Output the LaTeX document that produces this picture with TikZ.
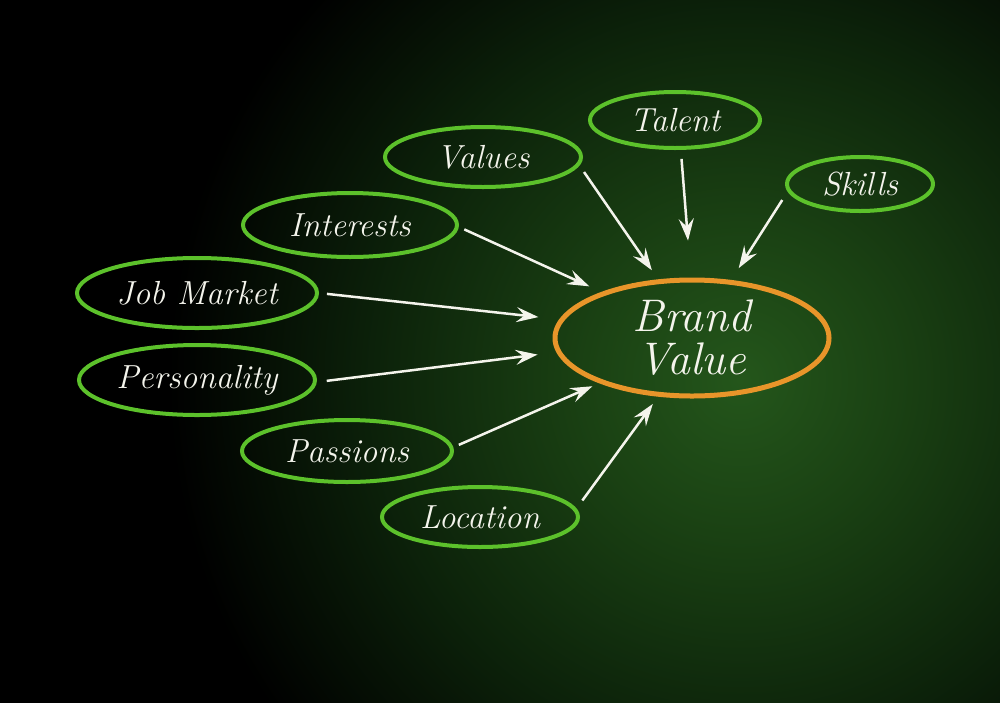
\documentclass[tikz,border=0pt]{standalone}
\usepackage{tikz}
\usetikzlibrary{
  arrows.meta,
  shapes.geometric
}
\definecolor{bvGreen}{HTML}{5CC12B}
\definecolor{bvOrange}{HTML}{E8952A}
\definecolor{bvChalk}{HTML}{F4F4EC}
\definecolor{bvBgA}{HTML}{24561B}
\definecolor{bvBgB}{HTML}{1A4113}
\definecolor{bvBgC}{HTML}{0C220A}
\pgfdeclareradialshading{bvglow}{\pgfpoint{0bp}{0bp}}{color(0bp)=(bvBgA); color(6bp)=(bvBgB); color(14bp)=(bvBgC); color(22bp)=(black); color(50bp)=(black)}
\tikzset{
  bvnode/.style={
    draw, ellipse, inner sep=0pt, text=bvChalk,
    font=\fontsize{19}{22}\selectfont\itshape
  },
  bubble/.style={bvnode, draw=bvGreen, line width=0.8mm},
  brandbubble/.style={bvnode, draw=bvOrange, line width=1mm, align=center,
    font=\fontsize{26}{24.5}\selectfont\itshape},
  feed/.style={-{Stealth[length=4.4mm, width=3mm, inset=1.6mm]}, line width=0.5mm, bvChalk}
}

\begin{document}
\begin{tikzpicture}[x=0.2mm, y=-0.2mm]
  \useasboundingbox (0,0) rectangle (1000,702);
  \fill[black] (-10,-10) rectangle (1010,712);
  \begin{scope}
    \clip (-10,-10) rectangle (1010,712);
    \shade[shading=bvglow] (740,380) circle[radius=130mm];
  \end{scope}

  \node[brandbubble, minimum width=54.8mm, minimum height=23.2mm] (brand) at (692,338) {Brand\\Value};
  \node[bubble, minimum width=34mm, minimum height=11.2mm] (talent) at (675,120) {Talent};
  \node[bubble, minimum width=39.2mm, minimum height=12mm] (values) at (483,157) {Values};
  \node[bubble, minimum width=29.2mm, minimum height=10.8mm] (skills) at (860,184) {Skills};
  \node[bubble, minimum width=42.8mm, minimum height=12.8mm] (interests) at (350,225) {Interests};
  \node[bubble, minimum width=48mm, minimum height=14mm] (jobmarket) at (197,293) {Job Market};
  \node[bubble, minimum width=47.2mm, minimum height=14mm] (personality) at (197,380) {Personality};
  \node[bubble, minimum width=42mm, minimum height=12.4mm] (passions) at (347,451) {Passions};
  \node[bubble, minimum width=39.2mm, minimum height=12mm] (location) at (480,517) {Location};

  \foreach \n/\a/\b/\s/\e in {talent/-79/91/1.8/7.4, values/-5/120/1.6/2.2, skills/186/56/2/2.8,
    interests/-1/153/1.2/2.7, jobmarket/0/172/1.6/4.2, personality/-1/186/2/3.8,
    passions/2/206/1.2/1.5, location/5/240/2/1.8}{
    \draw[feed, shorten <=\s mm, shorten >=\e mm] (\n.\a) -- (brand.\b);
  }
\end{tikzpicture}
\end{document}
